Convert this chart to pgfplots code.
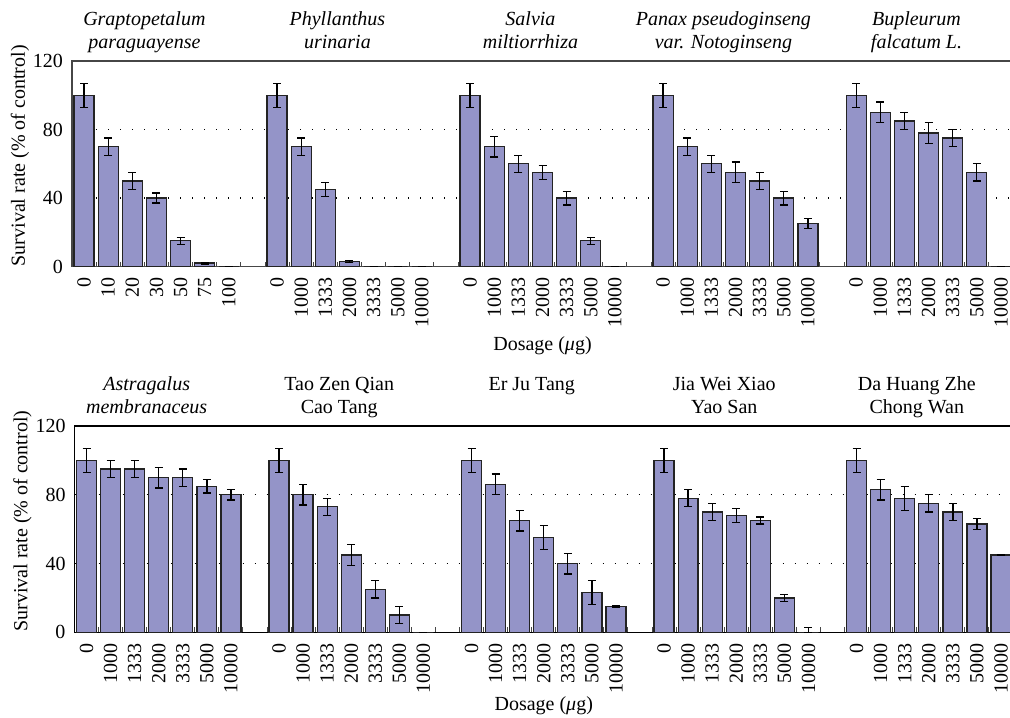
\documentclass[border=0pt]{standalone}
\usepackage{fontspec}
\setmainfont{Liberation Serif}
\usepackage{pgfplots}
\usepackage{pgfplotstable}
\pgfplotsset{compat=1.18}

\definecolor{barfill}{RGB}{148,148,200}
\definecolor{baredge}{RGB}{35,35,35}
\definecolor{axisgray}{RGB}{70,70,70}

% Survival rate (% of control) with error bars; x = bar slot, one empty slot between herbs
\pgfplotstableread{
x  y   ep  em
0  100 7   7
1  70  5   5
2  50  5   5
3  40  3   3
4  15  2   2
5  2   0.5 0.5
6  0   0   0
8  100 7   7
9  70  5   5
10 45  4   4
11 3   0.5 0.5
12 0   0   0
13 0   0   0
14 0   0   0
16 100 7   7
17 70  6   6
18 60  5   5
19 55  4   4
20 40  4   4
21 15  2   2
22 0   0   0
24 100 7   7
25 70  5   5
26 60  5   5
27 55  6   6
28 50  5   5
29 40  4   4
30 25  3   3
32 100 7   7
33 90  6   6
34 85  5   5
35 78  6   6
36 75  5   5
37 55  5   5
38 0   0   0
}\toprow

\pgfplotstableread{
x  y   ep  em
0  100 7   7
1  95  5   5
2  95  5   5
3  90  6   6
4  90  5   5
5  85  4   4
6  80  3   3
8  100 7   7
9  80  6   6
10 73  5   5
11 45  6   6
12 25  5   5
13 10  5   5
14 0   0   0
16 100 7   7
17 86  6   6
18 65  6   6
19 55  7   7
20 40  6   6
21 23  7   7
22 15  0.3 0.3
24 100 7   7
25 78  5   5
26 70  5   5
27 68  4   4
28 65  2   2
29 20  2   2
30 0   3   0
32 100 7   7
33 83  6   6
34 78  7   7
35 75  5   5
36 70  5   5
37 63  3   3
38 45  0.3 0.3
}\bottomrow

\pgfplotsset{
  panel/.style={
    scale only axis,
    xmin=-0.5, xmax=38.5, ymin=0, ymax=120,
    ybar, bar width=0.83, clip=false,
    xtick={0,1,2,3,4,5,6,8,9,10,11,12,13,14,16,17,18,19,20,21,22,24,25,26,27,28,29,30,32,33,34,35,36,37,38},
    minor xtick={-0.5,0.5,...,38.5},
    ytick={0,40,80,120},
    major tick length=0pt, minor tick length=2.5pt,
    tick align=inside, tick pos=left,
    minor tick style={axisgray, line width=0.5pt},
    ymajorgrids=true,
    grid style={black, line width=0.6pt, dash pattern=on 0.6pt off 5.4pt},
    axis line style={axisgray, line width=0.8pt},
    /pgf/number format/assume math mode=true,
    yticklabel={\pgfmathprintnumber[assume math mode=true]{\tick}},
    yticklabel style={inner xsep=4.3pt},
    xticklabel style={rotate=90, anchor=east, inner xsep=5.5pt},
    ylabel={Survival rate (\% of control)},
    xlabel={Dosage (\textit{μ}g)},
    every axis y label/.style={at={(axis description cs:0,0.5)},
      xshift=-26pt, yshift=4pt, rotate=90, anchor=center},
    every axis x label/.style={at={(axis description cs:0.5,0)}, anchor=center},
  },
  herbbars/.style={
    fill=barfill, draw=baredge, line width=0.65pt,
    error bars/.cd, y dir=both, y explicit,
    error bar style={black, line width=0.65pt},
    error mark options={black, rotate=90, mark size=2pt, line width=0.65pt},
  },
}

% herb name above its group of bars: x position, first line, second line
\newcommand\herbtitle[3]{%
  \node[anchor=base] at (axis cs:#1,120) [yshift=17.7pt] {#2};
  \node[anchor=base] at (axis cs:#1,120) [yshift=6.2pt] {#3};
}

\begin{document}
\begin{tikzpicture}
\begin{axis}[panel, at={(36pt,-133.25pt)}, anchor=south west,
  width=470.5pt, height=102.75pt,
  xticklabels={0,10,20,30,50,75,100,
    0,1000,1333,2000,3333,5000,10000,
    0,1000,1333,2000,3333,5000,10000,
    0,1000,1333,2000,3333,5000,10000,
    0,1000,1333,2000,3333,5000,10000},
  every axis x label/.append style={yshift=-39.5pt}]
\addplot[herbbars] table[x=x, y=y, y error plus=ep, y error minus=em] {\toprow};
\herbtitle{2.5}{\textit{Graptopetalum}}{\textit{paraguayense}}
\herbtitle{10.5}{\textit{Phyllanthus}}{\textit{urinaria}}
\herbtitle{18.5}{\textit{Salvia}}{\textit{miltiorrhiza}}
\herbtitle{26.5}{\textit{Panax pseudoginseng}}{\textit{var. Notoginseng}}
\herbtitle{34.5}{\textit{Bupleurum}}{\textit{falcatum L.}}
\end{axis}

\begin{axis}[panel, at={(37.25pt,-316.15pt)}, anchor=south west,
  width=469.25pt, height=103.15pt,
  axis line style={black, line width=0.8pt},
  xticklabels={0,1000,1333,2000,3333,5000,10000,
    0,1000,1333,2000,3333,5000,10000,
    0,1000,1333,2000,3333,5000,10000,
    0,1000,1333,2000,3333,5000,10000,
    0,1000,1333,2000,3333,5000,10000},
  every axis x label/.append style={yshift=-36.5pt}]
\addplot[herbbars] table[x=x, y=y, y error plus=ep, y error minus=em] {\bottomrow};
\herbtitle{2.5}{\textit{Astragalus}}{\textit{membranaceus}}
\herbtitle{10.5}{Tao Zen Qian}{Cao Tang}
\herbtitle{18.5}{Er Ju Tang}{}
\herbtitle{26.5}{Jia Wei Xiao}{Yao San}
\herbtitle{34.5}{Da Huang Zhe}{Chong Wan}
\end{axis}

\pgfresetboundingbox
\path[use as bounding box] (0pt,0pt) rectangle (505pt,-358.5pt);
\end{tikzpicture}
\end{document}
